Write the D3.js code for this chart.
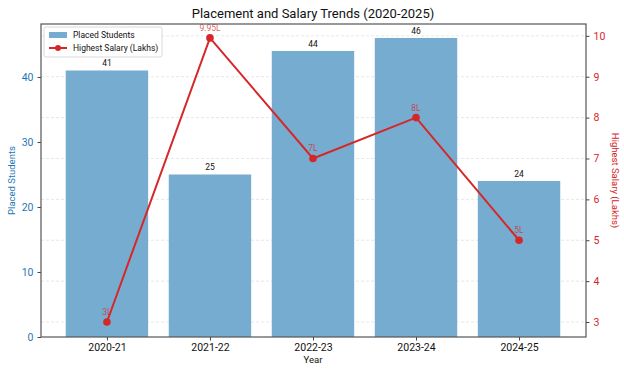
<!DOCTYPE html>
<html><head><meta charset="utf-8">
<script src="https://cdn.jsdelivr.net/npm/d3@7"></script>
<style>body{margin:0;background:#fff}svg{display:block;font-family:Roboto,"Open Sans",sans-serif}</style>
</head><body><svg id="c" width="624" height="374"></svg>
<script>
const categories = ["2020-21","2021-22","2022-23","2023-24","2024-25"];
const placedStudents = [41,25,44,46,24];
const highestSalary = [3,9.95,7,8,5];
const salaryLabels = ["3L","9.95L","7L","8L","5L"];
const leftTicks = [0,10,20,30,40];
const rightTicks = [3,4,5,6,7,8,9,10];

const svg = d3.select("#c");
const L=41,R=586,T=24,B=337;
const blue="#1f77b4", red="#d62728", barFill="#77acd1";

const x = d3.scaleLinear().domain([-0.64,4.65]).range([L,R]);
const yL = d3.scaleLinear().domain([0,48.15]).range([B,T]);
const yR = d3.scaleLinear().domain([2.633,10.29]).range([B,T]);
const bw = (x(0.4)-x(-0.4));

// grid (right axis)
svg.append("g").selectAll("line").data(rightTicks).join("line")
  .attr("x1",L).attr("x2",R).attr("y1",d=>yR(d)).attr("y2",d=>yR(d))
  .attr("stroke","#dcdcdc").attr("stroke-width",0.7).attr("stroke-dasharray","3,2");

// bars
svg.append("g").selectAll("rect").data(placedStudents).join("rect")
  .attr("x",(d,i)=>x(i)-bw/2).attr("width",bw)
  .attr("y",d=>yL(d)).attr("height",d=>B-yL(d)).attr("fill",barFill);
svg.append("g").selectAll("text").data(placedStudents).join("text")
  .attr("x",(d,i)=>x(i)).attr("y",d=>yL(d)-4).attr("text-anchor","middle")
  .attr("font-size",8.5).attr("fill","#111").text(d=>d);

// line
const line = d3.line().x((d,i)=>x(i)).y(d=>yR(d));
svg.append("path").datum(highestSalary).attr("d",line).attr("fill","none")
  .attr("stroke",red).attr("stroke-width",2);
svg.append("g").selectAll("circle").data(highestSalary).join("circle")
  .attr("cx",(d,i)=>x(i)).attr("cy",d=>yR(d)).attr("r",3.8).attr("fill",red);
svg.append("g").selectAll("text").data(highestSalary).join("text")
  .attr("x",(d,i)=>x(i)).attr("y",d=>yR(d)-7).attr("text-anchor","middle")
  .attr("font-size",8.5).attr("fill",red).attr("fill-opacity",0.75).text((d,i)=>salaryLabels[i]);

// axes
const axL = svg.append("g").attr("transform",`translate(${L},0)`)
  .call(d3.axisLeft(yL).tickValues(leftTicks).tickSize(3.5).tickPadding(4));
axL.selectAll("text").attr("fill",blue).attr("font-size",10.5).style("font-family","Roboto");
axL.selectAll("line").attr("stroke","#444");
const axR = svg.append("g").attr("transform",`translate(${R},0)`)
  .call(d3.axisRight(yR).tickValues(rightTicks).tickSize(3.5).tickPadding(4));
axR.selectAll("text").attr("fill",red).attr("font-size",10.5).style("font-family","Roboto");
axR.selectAll("line").attr("stroke","#444");
const axB = svg.append("g").attr("transform",`translate(0,${B})`)
  .call(d3.axisBottom(x).tickValues(d3.range(categories.length)).tickFormat(i=>categories[i]).tickSize(3.5).tickPadding(3));
axB.selectAll("text").attr("fill","#111").attr("font-size",10.5).style("font-family","Roboto");
axB.selectAll("line").attr("stroke","#444");
[axL,axR,axB].forEach(a=>a.select(".domain").remove());

// frame
svg.append("rect").attr("x",L).attr("y",T).attr("width",R-L).attr("height",B-T)
  .attr("fill","none").attr("stroke","#555").attr("stroke-width",1.2);

// titles
svg.append("text").attr("x",313).attr("y",18).attr("text-anchor","middle")
  .attr("font-size",13).attr("fill","#111").text("Placement and Salary Trends (2020-2025)");
svg.append("text").attr("x",313).attr("y",363).attr("text-anchor","middle")
  .attr("font-size",9.5).attr("fill","#111").text("Year");
svg.append("text").attr("transform",`translate(15,${(T+B)/2}) rotate(-90)`).attr("text-anchor","middle")
  .attr("font-size",9.5).attr("fill",blue).text("Placed Students");
svg.append("text").attr("transform",`translate(612,${(T+B)/2}) rotate(90)`).attr("text-anchor","middle")
  .attr("font-size",9.5).attr("fill",red).text("Highest Salary (Lakhs)");

// legend
const lg = svg.append("g");
lg.append("rect").attr("x",44).attr("y",27).attr("width",118).attr("height",30).attr("rx",2)
  .attr("fill","#fff").attr("fill-opacity",0.85).attr("stroke","#d0d0d0").attr("stroke-width",0.8);
lg.append("rect").attr("x",49).attr("y",32).attr("width",18).attr("height",6).attr("fill",barFill);
lg.append("text").attr("x",73).attr("y",38).attr("font-size",8.5).attr("fill","#111").text("Placed Students");
lg.append("line").attr("x1",49).attr("x2",67).attr("y1",48).attr("y2",48).attr("stroke",red).attr("stroke-width",2);
lg.append("circle").attr("cx",58).attr("cy",48).attr("r",3).attr("fill",red);
lg.append("text").attr("x",73).attr("y",51).attr("font-size",8.5).attr("fill","#111").text("Highest Salary (Lakhs)");
</script></body></html>
